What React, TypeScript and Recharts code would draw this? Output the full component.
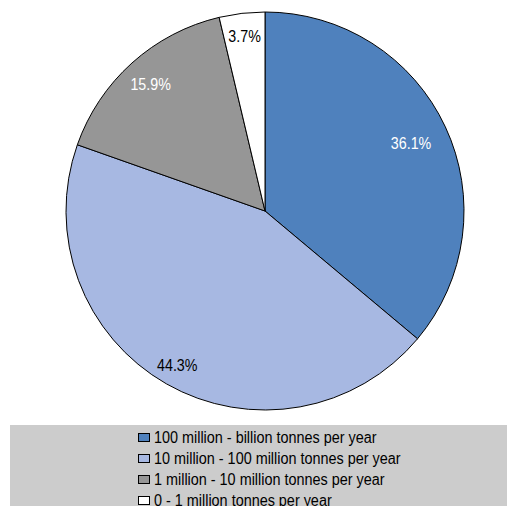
import { Cell, Legend, Pie, PieChart } from 'recharts'

const categories = [
  '100 million - billion tonnes per year',
  '10 million - 100 million tonnes per year',
  '1 million - 10 million tonnes per year',
  '0 - 1 million tonnes per year',
]
const shares = [36.1, 44.3, 15.9, 3.7]

const COLORS = ['#4F81BD', '#A7B8E2', '#969696', '#FFFFFF']
const LABEL_COLORS = ['#FFFFFF', '#000000', '#FFFFFF', '#000000']
// Excel "best fit" puts labels at slightly different depths
const LABEL_RADIUS = [0.81, 0.89, 0.86, 0.885]

const data = categories.map((name, i) => ({ name, value: shares[i] }))

const FONT = '"Liberation Sans", Arial, sans-serif'

const RADIAN = Math.PI / 180

function renderLabel(props: any) {
  const { cx, cy, midAngle, outerRadius, index, value } = props
  const r = outerRadius * LABEL_RADIUS[index]
  const x = cx + r * Math.cos(-midAngle * RADIAN)
  const y = cy + r * Math.sin(-midAngle * RADIAN)
  // narrow Arial look: squeeze horizontally
  return (
    <text
      transform={`translate(${x},${y}) scale(0.84,1)`}
      fill={LABEL_COLORS[index]}
      textAnchor="middle"
      dominantBaseline="central"
      fontSize={17}
      fontFamily={FONT}
    >
      {value.toFixed(1)}%
    </text>
  )
}

function LegendBox() {
  return (
    <div style={{ paddingTop: 2, paddingLeft: 128, fontFamily: FONT, fontSize: 16, color: '#000' }}>
      {data.map((d, i) => (
        <div key={d.name} style={{ display: 'flex', alignItems: 'center', height: 21, whiteSpace: 'nowrap' }}>
          <span style={{ display: 'inline-block', flex: 'none', width: 10, height: 7, border: '1px solid #000', background: COLORS[i], marginRight: 4 }} />
          <span style={{ display: 'inline-block', transform: 'scaleX(0.9)', transformOrigin: 'left center' }}>{d.name}</span>
        </div>
      ))}
    </div>
  )
}

export default function App() {
  return (
    <div style={{ position: 'absolute', left: 0, top: 0, width: 507, height: 506, background: '#fff', overflow: 'hidden' }}>
      <PieChart width={507} height={506} margin={{ top: 0, right: 0, bottom: 0, left: 0 }}>
        <Pie
          data={data}
          dataKey="value"
          nameKey="name"
          cx={265}
          cy={211}
          outerRadius={199}
          startAngle={90}
          endAngle={-270}
          stroke="#000"
          strokeWidth={1}
          label={renderLabel}
          labelLine={false}
          isAnimationActive={false}
        >
          {data.map((_, i) => (
            <Cell key={i} fill={COLORS[i]} />
          ))}
        </Pie>
        <Legend
          content={<LegendBox />}
          wrapperStyle={{ position: 'absolute', left: 10, top: 425, width: 497, height: 81, background: '#CCCCCC', bottom: 'auto' }}
        />
      </PieChart>
    </div>
  )
}
